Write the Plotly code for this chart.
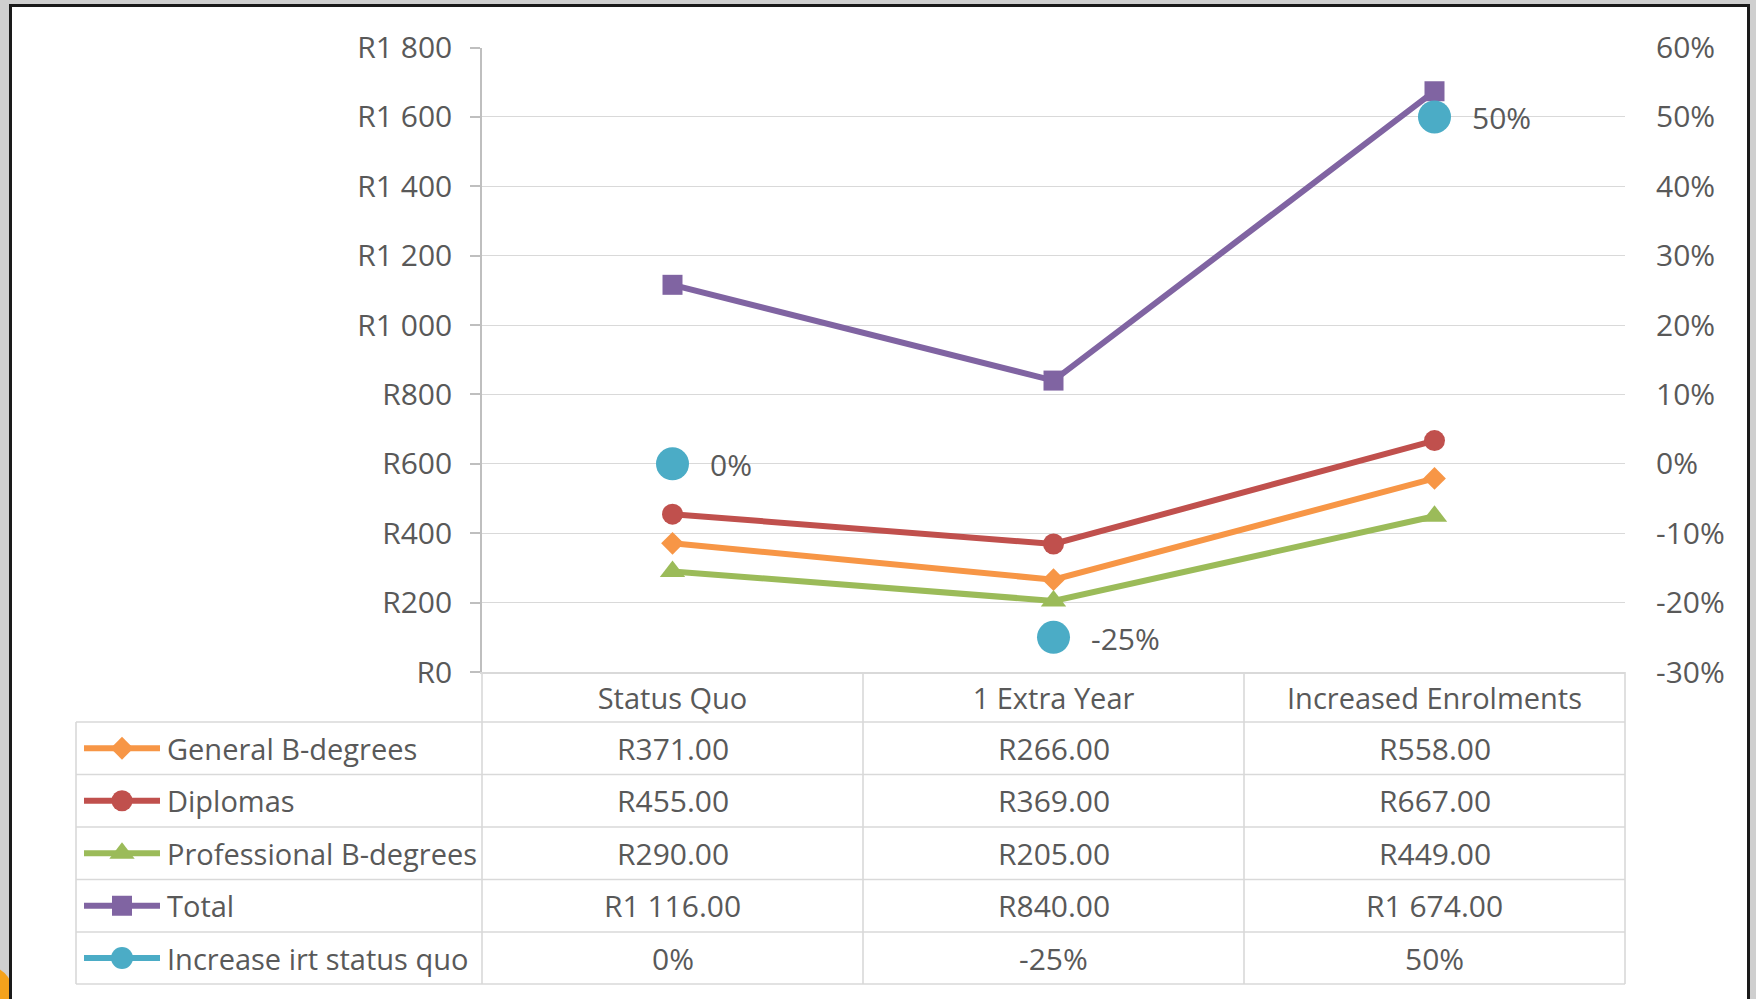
import plotly.graph_objects as go

# ---------------- data ----------------
categories = ["Status Quo", "1 Extra Year", "Increased Enrolments"]
series_names = ["General B-degrees", "Diplomas", "Professional B-degrees", "Total"]
general = [371, 266, 558]
diplomas = [455, 369, 667]
professional = [290, 205, 449]
total = [1116, 840, 1674]
increase_name = "Increase irt status quo"
increase = [0.0, -0.25, 0.50]
left_ticks = [0, 200, 400, 600, 800, 1000, 1200, 1400, 1600, 1800]
right_ticks = [-0.3, -0.2, -0.1, 0.0, 0.1, 0.2, 0.3, 0.4, 0.5, 0.6]

# ---------------- styles ----------------
W, H = 1756, 999
FONT = "Open Sans"
TXT = "#595959"
GRID = "#d9d9d9"
FS_TXT = 29
FS_NUM = 30
colors = ["#F79646", "#C0504D", "#9BBB59", "#8064A2"]
symbols = ["diamond", "circle", "triangle-up", "square"]
msizes = [17.5, 21, 22, 20]
blue = "#4BACC6"
LW = 6


def rand(v, dec=2):
    s = f"{v:,.{dec}f}".replace(",", " ")
    return "R" + s


def pct(p):
    return f"{round(p * 100)}%"


def px(x):
    return x / W


def py(y):
    return 1 - y / H


values = [general, diplomas, professional, total]

fig = go.Figure()

for name, vals, c, sym, ms in zip(series_names, values, colors, symbols, msizes):
    fig.add_trace(go.Scatter(
        x=categories, y=vals, name=name, mode="lines+markers",
        line=dict(color=c, width=LW),
        marker=dict(symbol=sym, size=ms, color=c),
        xaxis="x", yaxis="y", showlegend=False, hoverinfo="skip"))

fig.add_trace(go.Scatter(
    x=categories, y=increase, name=increase_name, mode="markers",
    marker=dict(symbol="circle", size=33, color=blue),
    xaxis="x", yaxis="y2", showlegend=False, hoverinfo="skip"))

# data labels for the increase series
annotations = []
for c, v in zip(categories, increase):
    annotations.append(dict(
        x=c, y=v, xref="x", yref="y2", text=pct(v), showarrow=False,
        xanchor="left", yanchor="middle", xshift=35, yshift=-1,
        font=dict(family=FONT, size=FS_NUM, color=TXT)))

# ---------------- data table ----------------
plot_l, plot_r = 482, 1625
axis_y = 672
row_edges = [722, 774.5, 827, 879.5, 932, 984]
col_edges = [482, 863, 1244, 1625]
col_centers = [(col_edges[i] + col_edges[i + 1]) / 2 for i in range(3)]
table_left = 76

shapes = []
# orange blob behind the frame (bottom-left corner)
shapes.append(dict(type="circle", xref="paper", yref="paper",
                   x0=px(-40), x1=px(16), y0=py(1040), y1=py(966),
                   fillcolor="#f4a21c", line=dict(width=0), layer="below"))
# white panel with dark frame
shapes.append(dict(type="rect", xref="paper", yref="paper",
                   x0=px(10.5), x1=px(1748.5), y0=py(1012), y1=py(5.5),
                   fillcolor="white", line=dict(color="#1a1a1a", width=3),
                   layer="below"))
for y in row_edges:
    shapes.append(dict(type="line", xref="paper", yref="paper",
                       x0=px(table_left), x1=px(plot_r), y0=py(y), y1=py(y),
                       line=dict(color=GRID, width=1.6), layer="below"))
shapes.append(dict(type="line", xref="paper", yref="paper",
                   x0=px(table_left), x1=px(table_left),
                   y0=py(row_edges[0]), y1=py(row_edges[-1]),
                   line=dict(color=GRID, width=1.6), layer="below"))
for x in col_edges:
    shapes.append(dict(type="line", xref="paper", yref="paper",
                       x0=px(x), x1=px(x), y0=py(axis_y), y1=py(row_edges[-1]),
                       line=dict(color=GRID, width=1.6), layer="below"))

row_names = series_names + [increase_name]
row_values = [[rand(v) for v in vals] for vals in values] + [[pct(p) for p in increase]]
row_colors = colors + [blue]
row_symbols = symbols + ["circle"]
row_msizes = [17.5, 21, 22, 20, 22]

for i, (nm, vals) in enumerate(zip(row_names, row_values)):
    yc = (row_edges[i] + row_edges[i + 1]) / 2
    annotations.append(dict(x=px(165), y=py(yc), xref="paper", yref="paper",
                            text=nm, showarrow=False, xanchor="left", yanchor="middle",
                            font=dict(family=FONT, size=FS_TXT, color=TXT)))
    for xc, t in zip(col_centers, vals):
        annotations.append(dict(x=px(xc), y=py(yc), xref="paper", yref="paper",
                                text=t, showarrow=False, xanchor="center", yanchor="middle",
                                font=dict(family=FONT, size=FS_NUM, color=TXT)))
    # legend key (line + marker) on a hidden pixel axis
    fig.add_trace(go.Scatter(x=[84, 160], y=[yc, yc], mode="lines",
                             line=dict(color=row_colors[i], width=LW),
                             xaxis="x3", yaxis="y3", showlegend=False, hoverinfo="skip"))
    fig.add_trace(go.Scatter(x=[122], y=[yc], mode="markers",
                             marker=dict(symbol=row_symbols[i], size=row_msizes[i],
                                         color=row_colors[i]),
                             xaxis="x3", yaxis="y3", showlegend=False, hoverinfo="skip"))

fig.update_layout(
    width=W, height=H, autosize=False,
    margin=dict(l=0, r=0, t=0, b=0, pad=0, autoexpand=False),
    paper_bgcolor="#cfcfcf", plot_bgcolor="rgba(0,0,0,0)",
    font=dict(family=FONT, size=FS_TXT, color=TXT),
    showlegend=False,
    xaxis=dict(domain=[px(plot_l), px(plot_r)], type="category",
               categoryorder="array", categoryarray=categories,
               range=[-0.5, 2.5], showgrid=False, zeroline=False,
               showline=True, linecolor=GRID, linewidth=1.6,
               ticks="", showticklabels=True, ticklabelstandoff=0,
               tickfont=dict(family=FONT, size=FS_TXT, color=TXT),
               anchor="y", fixedrange=True, automargin=False),
    yaxis=dict(domain=[py(axis_y), py(47.5)], range=[0, 1800],
               tickvals=left_ticks, ticktext=[rand(v, 0) for v in left_ticks],
               showgrid=True, gridcolor=GRID, gridwidth=1.4, zeroline=False,
               showline=True, linecolor="#bfbfbf", linewidth=1.6,
               ticks="outside", ticklen=10, tickcolor="#bfbfbf", tickwidth=1.6,
               ticklabelstandoff=12,
               tickfont=dict(family=FONT, size=FS_NUM, color=TXT),
               anchor="x", fixedrange=True, automargin=False),
    yaxis2=dict(overlaying="y", side="right", anchor="x", range=[-0.3, 0.6],
                tickvals=right_ticks, ticktext=[pct(p) for p in right_ticks],
                showgrid=False, zeroline=False, showline=False, ticks="",
                ticklabelstandoff=30,
                tickfont=dict(family=FONT, size=FS_NUM, color=TXT), fixedrange=True,
                automargin=False),
    xaxis3=dict(domain=[0, 1], range=[0, W], visible=False, anchor="y3",
                fixedrange=True, automargin=False),
    yaxis3=dict(domain=[0, 1], range=[H, 0], visible=False, anchor="x3",
                fixedrange=True, automargin=False),
    shapes=shapes,
    annotations=annotations,
)

fig.write_html("out.html", config={"displayModeBar": False},
               post_script="document.body.style.margin='0';document.body.style.overflow='hidden';")
